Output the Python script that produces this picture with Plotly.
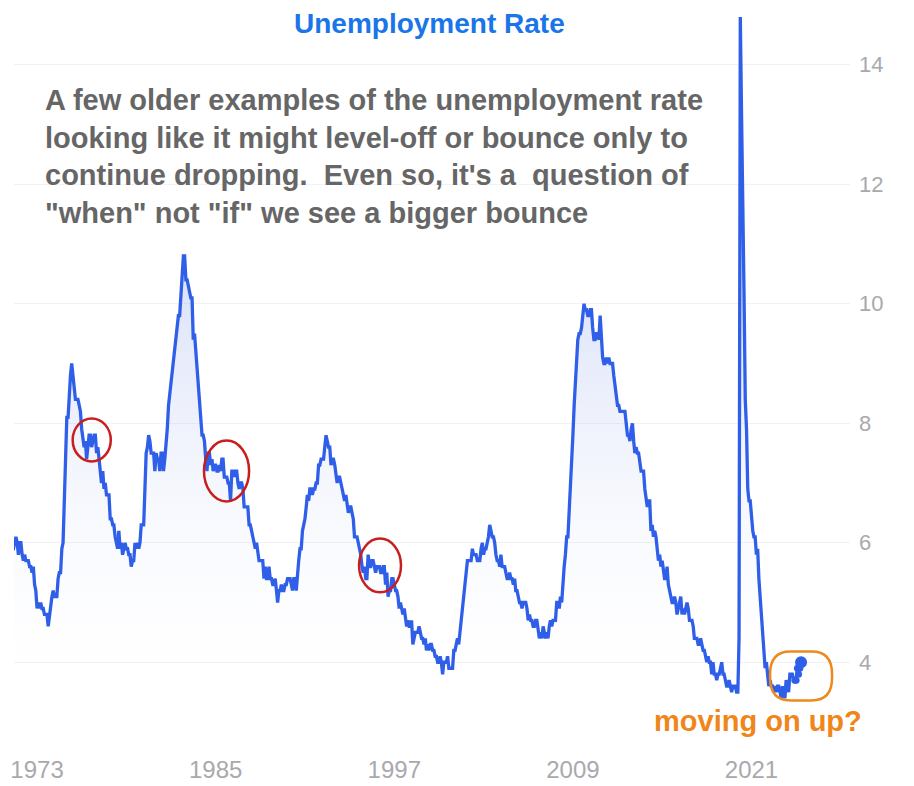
import pandas as pd
import plotly.graph_objects as go

# Monthly US unemployment rate (%)
rate_1970s = [  # 1971-1979
    5.9, 5.9, 6.0, 5.9, 5.9, 5.9, 6.0, 6.1, 6.0, 5.8, 6.0, 6.0,
    5.8, 5.7, 5.8, 5.7, 5.7, 5.7, 5.6, 5.6, 5.5, 5.6, 5.3, 5.2,
    4.9, 5.0, 4.9, 5.0, 4.9, 4.9, 4.8, 4.8, 4.8, 4.6, 4.8, 4.9,
    5.1, 5.2, 5.1, 5.1, 5.1, 5.4, 5.5, 5.5, 5.9, 6.0, 6.6, 7.2,
    8.1, 8.1, 8.6, 8.8, 9.0, 8.8, 8.6, 8.4, 8.4, 8.4, 8.3, 8.2,
    7.9, 7.7, 7.6, 7.7, 7.4, 7.6, 7.8, 7.8, 7.6, 7.7, 7.8, 7.8,
    7.5, 7.6, 7.4, 7.2, 7.0, 7.2, 6.9, 7.0, 6.8, 6.8, 6.8, 6.4,
    6.4, 6.3, 6.3, 6.1, 6.0, 5.9, 6.2, 5.9, 6.0, 5.8, 5.9, 6.0,
    5.9, 5.9, 5.8, 5.8, 5.6, 5.7, 5.7, 6.0, 5.9, 6.0, 5.9, 6.0,
]
rate_1980s = [
    6.3, 6.3, 6.3, 6.9, 7.5, 7.6, 7.8, 7.7, 7.5, 7.5, 7.5, 7.2,
    7.5, 7.4, 7.4, 7.2, 7.5, 7.5, 7.2, 7.4, 7.6, 7.9, 8.3, 8.5,
    8.6, 8.9, 9.0, 9.3, 9.4, 9.6, 9.8, 9.8, 10.1, 10.4, 10.8, 10.8,
    10.4, 10.4, 10.3, 10.2, 10.1, 10.1, 9.4, 9.5, 9.2, 8.8, 8.5, 8.3,
    8.0, 7.8, 7.8, 7.7, 7.4, 7.2, 7.5, 7.5, 7.3, 7.4, 7.2, 7.3,
    7.3, 7.2, 7.2, 7.3, 7.2, 7.4, 7.4, 7.1, 7.1, 7.1, 7.0, 7.0,
    6.7, 7.2, 7.2, 7.1, 7.2, 7.2, 7.0, 6.9, 7.0, 7.0, 6.9, 6.6,
    6.6, 6.6, 6.6, 6.3, 6.3, 6.2, 6.1, 6.0, 5.9, 6.0, 5.8, 5.7,
    5.7, 5.7, 5.7, 5.4, 5.6, 5.4, 5.4, 5.6, 5.4, 5.4, 5.3, 5.3,
    5.4, 5.2, 5.0, 5.2, 5.2, 5.3, 5.2, 5.2, 5.3, 5.3, 5.4, 5.4,
]
rate_1990s = [
    5.4, 5.3, 5.2, 5.4, 5.4, 5.2, 5.5, 5.7, 5.9, 5.9, 6.2, 6.3,
    6.4, 6.6, 6.8, 6.7, 6.9, 6.9, 6.8, 6.9, 6.9, 7.0, 7.0, 7.3,
    7.3, 7.4, 7.4, 7.4, 7.6, 7.8, 7.7, 7.6, 7.6, 7.3, 7.4, 7.4,
    7.3, 7.1, 7.0, 7.1, 7.1, 7.0, 6.9, 6.8, 6.7, 6.8, 6.6, 6.5,
    6.6, 6.6, 6.5, 6.4, 6.1, 6.1, 6.1, 6.0, 5.9, 5.8, 5.6, 5.5,
    5.6, 5.4, 5.4, 5.8, 5.6, 5.6, 5.7, 5.7, 5.6, 5.5, 5.6, 5.6,
    5.6, 5.5, 5.5, 5.6, 5.6, 5.3, 5.5, 5.1, 5.2, 5.2, 5.4, 5.4,
    5.3, 5.2, 5.2, 5.1, 4.9, 5.0, 4.9, 4.8, 4.9, 4.7, 4.6, 4.7,
    4.6, 4.6, 4.7, 4.3, 4.4, 4.5, 4.5, 4.5, 4.6, 4.5, 4.4, 4.4,
    4.3, 4.4, 4.2, 4.3, 4.2, 4.3, 4.3, 4.2, 4.2, 4.1, 4.1, 4.0,
]
rate_2000s = [
    4.0, 4.1, 4.0, 3.8, 4.0, 4.0, 4.0, 4.1, 3.9, 3.9, 3.9, 3.9,
    4.2, 4.2, 4.3, 4.4, 4.3, 4.5, 4.6, 4.9, 5.0, 5.3, 5.5, 5.7,
    5.7, 5.7, 5.7, 5.9, 5.8, 5.8, 5.8, 5.7, 5.7, 5.7, 5.9, 6.0,
    5.8, 5.9, 5.9, 6.0, 6.1, 6.3, 6.2, 6.1, 6.1, 6.0, 5.8, 5.7,
    5.7, 5.6, 5.8, 5.6, 5.6, 5.6, 5.5, 5.4, 5.4, 5.5, 5.4, 5.4,
    5.3, 5.4, 5.2, 5.2, 5.1, 5.0, 5.0, 4.9, 5.0, 5.0, 5.0, 4.9,
    4.7, 4.8, 4.7, 4.7, 4.6, 4.6, 4.7, 4.7, 4.5, 4.4, 4.5, 4.4,
    4.6, 4.5, 4.4, 4.5, 4.4, 4.6, 4.7, 4.6, 4.7, 4.7, 4.7, 5.0,
    5.0, 4.9, 5.1, 5.0, 5.4, 5.6, 5.8, 6.1, 6.1, 6.5, 6.8, 7.3,
    7.8, 8.3, 8.7, 9.0, 9.4, 9.5, 9.5, 9.6, 9.8, 10.0, 9.9, 9.9,
]
rate_2010s = [
    9.8, 9.8, 9.9, 9.9, 9.6, 9.4, 9.4, 9.5, 9.5, 9.4, 9.8, 9.3,
    9.1, 9.0, 9.0, 9.1, 9.0, 9.1, 9.0, 9.0, 9.0, 8.8, 8.6, 8.5,
    8.3, 8.3, 8.2, 8.2, 8.2, 8.2, 8.2, 8.0, 7.8, 7.8, 7.7, 7.9,
    8.0, 7.7, 7.5, 7.6, 7.5, 7.5, 7.3, 7.2, 7.2, 7.2, 6.9, 6.7,
    6.6, 6.7, 6.7, 6.2, 6.3, 6.1, 6.2, 6.1, 5.9, 5.7, 5.8, 5.6,
    5.7, 5.5, 5.4, 5.4, 5.6, 5.3, 5.2, 5.1, 5.0, 5.0, 5.1, 5.0,
    4.8, 4.9, 5.0, 5.1, 4.8, 4.9, 4.8, 4.9, 5.0, 4.9, 4.7, 4.7,
    4.7, 4.6, 4.4, 4.4, 4.4, 4.3, 4.3, 4.4, 4.3, 4.2, 4.2, 4.1,
    4.0, 4.1, 4.0, 4.0, 3.8, 4.0, 3.8, 3.8, 3.7, 3.8, 3.8, 3.9,
    4.0, 3.8, 3.8, 3.7, 3.6, 3.6, 3.7, 3.6, 3.5, 3.6, 3.6, 3.6,
]
rate_2020s = [
    3.5, 3.5, 4.4, 14.8, 13.2, 11.0, 10.2, 8.4, 7.9, 6.9, 6.7, 6.7,
    6.4, 6.2, 6.1, 6.1, 5.8, 5.9, 5.4, 5.1, 4.7, 4.5, 4.2, 3.9,
    4.0, 3.8, 3.6, 3.7, 3.6, 3.6, 3.5, 3.6, 3.5, 3.6, 3.6, 3.5,
    3.4, 3.6, 3.5, 3.4, 3.7, 3.6, 3.5, 3.8, 3.8, 3.8, 3.7, 3.7,
    3.7, 3.9, 3.8, 3.9, 4.0,
]
first_month = "1971-01-01"

tick_years = ["1973", "1985", "1997", "2009", "2021"]
y_ticks = [4, 6, 8, 10, 12, 14]

# annotation ellipses (year span, value span)
red_circles = [
    ("1975-05-25", "1977-12-15", 7.36, 8.08),
    ("1984-03-20", "1987-04-01", 6.69, 7.71),
    ("1994-08-20", "1997-06-15", 5.17, 6.07),
]

values = rate_1970s + rate_1980s + rate_1990s + rate_2000s + rate_2010s + rate_2020s
dates = pd.date_range(first_month, periods=len(values), freq="MS")

LINE = "#2f5fe8"
fig = go.Figure()
fig.add_trace(go.Scatter(
    x=dates, y=values, mode="lines",
    line=dict(color=LINE, width=3.3),
    fill="tozeroy",
    fillgradient=dict(type="vertical", start=3.0, stop=11.0,
                      colorscale=[[0, "rgba(255,255,255,0)"], [1, "rgba(70,105,225,0.22)"]]),
    hoverinfo="skip", showlegend=False,
))
n_dots = 6
fig.add_trace(go.Scatter(
    x=dates[-n_dots:], y=values[-n_dots:], mode="markers",
    marker=dict(color=LINE, size=[7, 7, 7, 7, 7, 12], opacity=1, line=dict(width=0)),
    hoverinfo="skip", showlegend=False,
))

shapes = []
for x0, x1, y0, y1 in red_circles:
    shapes.append(dict(type="circle", xref="x", yref="y", x0=x0, x1=x1, y0=y0, y1=y1,
                       line=dict(color="#c81e1e", width=2.5)))

# orange rounded box around the latest readings
bx0, bx1 = pd.Timestamp("2022-04-01"), pd.Timestamp("2026-06-01")
by0, by1 = 3.36, 4.18
rx = pd.Timedelta(days=500)
ry = 0.38
def d(t):
    return t.strftime("%Y-%m-%d")
path = (f"M {d(bx0+rx)},{by0} L {d(bx1-rx)},{by0} Q {d(bx1)},{by0} {d(bx1)},{by0+ry} "
        f"L {d(bx1)},{by1-ry} Q {d(bx1)},{by1} {d(bx1-rx)},{by1} "
        f"L {d(bx0+rx)},{by1} Q {d(bx0)},{by1} {d(bx0)},{by1-ry} "
        f"L {d(bx0)},{by0+ry} Q {d(bx0)},{by0} {d(bx0+rx)},{by0} Z")
shapes.append(dict(type="path", xref="x", yref="y", path=path,
                   line=dict(color="#ee8a1c", width=2.5)))

FONT = "Liberation Sans, Arial, sans-serif"
annotations = [
    dict(text="<b>Unemployment Rate</b>", xref="paper", yref="paper", x=0.4976, y=1.0,
         xanchor="center", yanchor="top", yshift=-1, showarrow=False,
         font=dict(family=FONT, size=28, color="#1a75e8")),
    dict(text="<b>A few older examples of the unemployment rate<br>"
              "looking like it might level-off or bounce only to<br>"
              "continue dropping.  Even so, it's a  question of<br>"
              "\"when\" not \"if\" we see a bigger bounce</b>",
         xref="paper", yref="paper", x=0.035, y=0.893, xanchor="left", yanchor="top",
         align="left", showarrow=False,
         font=dict(family=FONT, size=29, color="#666666")),
    dict(text="<b>moving on up?</b>", xref="paper", yref="paper", x=0.89, y=0.006,
         xanchor="center", yanchor="middle", showarrow=False,
         font=dict(family=FONT, size=29, color="#f0861a")),
]

fig.update_layout(
    width=914, height=786,
    margin=dict(l=14, r=64, t=5, b=61),
    paper_bgcolor="white", plot_bgcolor="white",
    shapes=shapes, annotations=annotations,
    xaxis=dict(type="date", range=["1971-06-15", "2027-08-15"], automargin=False,
               tickvals=[f"{y}-01-01" for y in tick_years], ticktext=tick_years,
               showgrid=False, zeroline=False, showline=False, ticks="",
               ticklabelstandoff=28,
               tickfont=dict(family=FONT, size=24, color="#a9a9ad")),
    yaxis=dict(side="right", range=[2.95, 15.0], tickvals=y_ticks, automargin=False,
               showgrid=True, gridcolor="#f2f2f4", gridwidth=1,
               zeroline=False, showline=False, ticks="",
               ticklabelstandoff=8,
               tickfont=dict(family=FONT, size=22, color="#a9a9ad")),
)

fig.write_html("out.html", config={"displayModeBar": False},
               post_script="document.body.style.margin='0';")
